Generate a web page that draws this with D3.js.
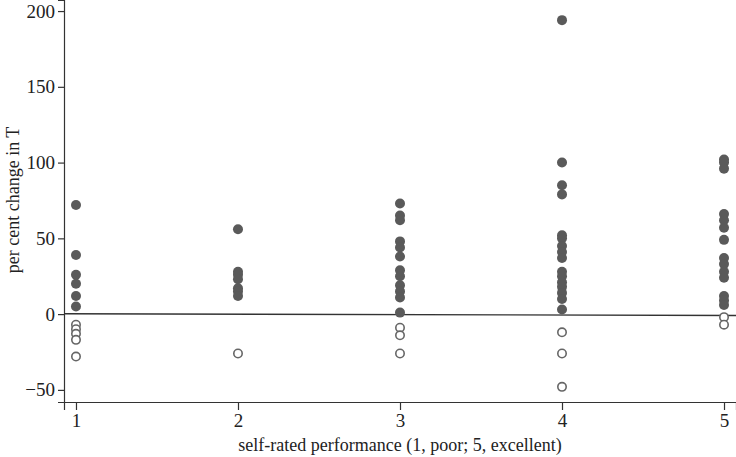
<!DOCTYPE html>
<html>
<head>
<meta charset="utf-8">
<script src="https://cdn.jsdelivr.net/npm/d3@7"></script>
<style>
  body { margin: 0; background: #fff; }
  svg { display: block; }
  .axis path, .axis line { stroke: #333; stroke-width: 1.2; }
</style>
</head>
<body>
<div id="vis"></div>
<script>
// frame
const FRAME_WIDTH = 736;
const FRAME_HEIGHT = 457;
const SERIF = "'Liberation Serif', 'Times New Roman', 'DejaVu Serif', serif";

// x ticks (self-rated performance) and y ticks
const X_TICKS = [1, 2, 3, 4, 5];
const Y_TICKS = [-50, 0, 50, 100, 150, 200];

// per cent change in T, one list per rating
const RATING_1 = [72, 39, 26, 20, 12, 5, -7, -10, -13, -17, -28];
const RATING_2 = [56, 28, 26, 23, 17, 15, 12, -26];
const RATING_3 = [73, 65, 62, 48, 44, 38, 29, 25, 19, 15, 11, 1, -9, -14, -26];
const RATING_4 = [194, 100, 85, 79, 52, 50, 45, 41, 37, 28, 25, 21, 18, 14, 10, 3, -12, -26, -48];
const RATING_5 = [102, 100, 96, 66, 62, 57, 49, 37, 33, 28, 24, 12, 9, 6, -2, -7];

// fitted line endpoints (x, y)
const FIT_X = [0.926, 5.074];
const FIT_Y = [0.2, -0.9];

const GROUPS = [RATING_1, RATING_2, RATING_3, RATING_4, RATING_5];
const points = [];
GROUPS.forEach((vals, i) => {
  vals.forEach((v) => { points.push({x: X_TICKS[i], y: v}); });
});

const svg = d3.select("#vis")
  .append("svg")
    .attr("width", FRAME_WIDTH)
    .attr("height", FRAME_HEIGHT);

// scales
const X_SCALE = d3.scaleLinear()
  .domain([0.926, 5.074])
  .range([64, 736]);

const Y_SCALE = d3.scaleLinear()
  .domain([-58, 207.3])
  .range([402, 0]);

// x axis
svg.append("g")
  .attr("class", "axis")
  .attr("transform", "translate(0,402)")
  .call(d3.axisBottom(X_SCALE).tickValues(X_TICKS).tickSizeOuter(0).tickSize(8).tickPadding(4).tickFormat(d3.format("d")))
  .attr("font-family", SERIF)
  .attr("font-size", 19)
  .selectAll("text").attr("fill", "#222");

// y axis
svg.append("g")
  .attr("class", "axis")
  .attr("transform", "translate(64,0)")
  .call(d3.axisLeft(Y_SCALE).tickValues(Y_TICKS).tickSizeOuter(0).tickSize(6).tickPadding(3)
    .tickFormat((d) => d < 0 ? "\u2212" + Math.abs(d) : d))
  .attr("font-family", SERIF)
  .attr("font-size", 19)
  .selectAll("text").attr("fill", "#222");

// fitted line
svg.append("line")
  .attr("x1", X_SCALE(FIT_X[0]))
  .attr("y1", Y_SCALE(FIT_Y[0]))
  .attr("x2", X_SCALE(FIT_X[1]))
  .attr("y2", Y_SCALE(FIT_Y[1]))
  .attr("stroke", "#333")
  .attr("stroke-width", 1.4);

// points: filled for gains, open for losses
svg.selectAll(".pt")
  .data(points)
  .enter()
  .append("circle")
    .attr("class", "pt")
    .attr("cx", (d) => X_SCALE(d.x))
    .attr("cy", (d) => Y_SCALE(d.y))
    .attr("r", (d) => d.y >= 0 ? 5 : 4.2)
    .attr("fill", (d) => d.y >= 0 ? "#5a5a5a" : "#fff")
    .attr("stroke", (d) => d.y >= 0 ? "none" : "#666")
    .attr("stroke-width", 1.6);

// axis titles
svg.append("text")
  .attr("x", 400)
  .attr("y", 451)
  .attr("text-anchor", "middle")
  .attr("font-family", SERIF)
  .attr("font-size", 18)
  .attr("fill", "#222")
  .text("self-rated performance (1, poor; 5, excellent)");

svg.append("text")
  .attr("transform", "translate(19,200) rotate(-90)")
  .attr("text-anchor", "middle")
  .attr("font-family", SERIF)
  .attr("font-size", 18)
  .attr("fill", "#222")
  .text("per cent change in T");
</script>
</body>
</html>
